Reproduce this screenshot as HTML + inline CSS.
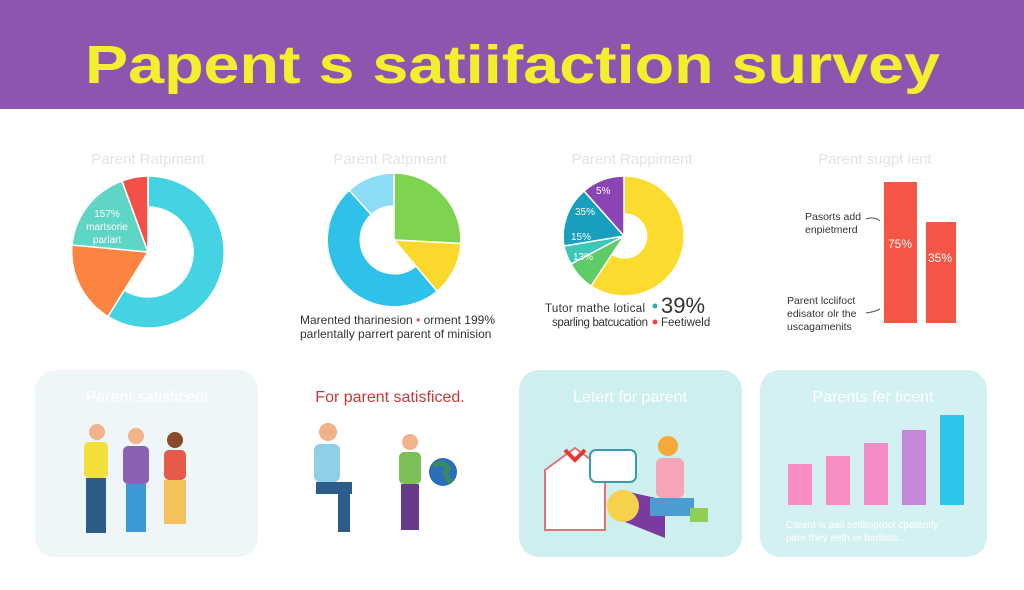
<!DOCTYPE html>
<html><head><meta charset="utf-8"><style>
body{margin:0;width:1024px;height:585px;overflow:hidden;background:#fff;font-family:"Liberation Sans",sans-serif}
</style></head><body>
<svg width="1024" height="585" viewBox="0 0 1024 585" xmlns="http://www.w3.org/2000/svg" font-family="Liberation Sans, sans-serif">
<rect x="0" y="0" width="1024" height="109" fill="#8e55b0"/>
<text x="85" y="83" font-size="54" font-weight="bold" fill="#f3ef2c" textLength="855" lengthAdjust="spacingAndGlyphs">Papent s  satiifaction  survey</text>
<g font-size="15" fill="#e4e4e4" text-anchor="middle">
<text x="148" y="164">Parent Ratpment</text><text x="390" y="164">Parent Ratpment</text>
<text x="632" y="164">Parent Rappiment</text><text x="875" y="164">Parent sugpt ient</text></g>
<!-- donut 1 -->
<g transform="translate(148,252)" stroke="#fff" stroke-width="1.5">
<path d="M0,-76 A76,76 0 1 1 -40,64.5 L-24,38 A45,45 0 1 0 0,-45Z" fill="#44d3e2"/>
<path d="M-40,64.5 A76,76 0 0 1 -76,-7 L0,0Z" fill="#fb8540"/>
<path d="M-76,-7 A76,76 0 0 1 -26,-71 L0,0Z" fill="#5fd5c5"/>
<path d="M-26,-71 A76,76 0 0 1 0,-76 L0,0Z" fill="#f4504a"/>
</g>
<g font-size="10" fill="#fff" text-anchor="middle"><text x="107" y="217">157%</text><text x="107" y="230">martsorie</text><text x="107" y="243">parlart</text></g>
<!-- donut 2 -->
<g transform="translate(394,240)" stroke="#fff" stroke-width="1.5">
<path d="M0,-67 A67,67 0 0 1 66.9,3.5 L0,0 Z" fill="#7ed44e"/>
<path d="M66.9,3.5 A67,67 0 0 1 43.1,51.3 L0,0 Z" fill="#fbd92c"/>
<path d="M43.1,51.3 A67,67 0 0 1 -44.8,-49.8 L-22.7,-25.3 A34,34 0 0 0 21.9,26 Z" fill="#2ec1ea"/>
<path d="M-44.8,-49.8 A67,67 0 0 1 0,-67 L0,-34 A34,34 0 0 0 -22.7,-25.3 Z" fill="#8ddcf5"/>
</g>
<g font-size="12" fill="#333"><text x="300" y="324">Marented tharinesion  <tspan fill="#e44">•</tspan> orment 199%</text><text x="300" y="338">parlentally parrert parent of minision</text></g>
<!-- donut 3 -->
<g transform="translate(624,236)" stroke="#fff" stroke-width="1.5">
<path d="M0,-60 A60,60 0 1 1 -33,50 L-12,18 A22,22 0 1 0 0,-22Z" fill="#fbdb2e"/>
<path d="M-33,50 A60,60 0 0 1 -53,28 L0,0Z" fill="#5ecb66"/>
<path d="M-53,28 A60,60 0 0 1 -60,10 L0,0Z" fill="#3dc7b8"/>
<path d="M-60,10 A60,60 0 0 1 -40,-45 L0,0Z" fill="#189fbd"/>
<path d="M-40,-45 A60,60 0 0 1 0,-60 L0,0Z" fill="#8b44b4"/>
</g>
<g font-size="10" fill="#fff"><text x="596" y="194">5%</text><text x="575" y="215">35%</text><text x="571" y="240">15%</text><text x="573" y="260">13%</text></g>
<g font-size="11.5" fill="#333"><text x="545" y="312" textLength="100">Tutor mathe lotical</text><text x="552" y="326" textLength="96">sparling batcucation</text>
<circle cx="655" cy="306" r="2.5" fill="#3ab"/><text x="661" y="313" font-size="22">39%</text>
<circle cx="655" cy="322" r="2.5" fill="#e44"/><text x="661" y="326">Feetiweld</text></g>
<!-- bars -->
<rect x="884" y="182" width="33" height="141" fill="#f45545"/>
<rect x="926" y="222" width="30" height="101" fill="#f45545"/>
<g font-size="12" fill="#fff"><text x="888" y="248">75%</text><text x="928" y="262">35%</text></g>
<g font-size="10.5" fill="#333"><text x="805" y="220">Pasorts add</text><text x="805" y="233">enpietmerd</text>
<text x="787" y="304">Parent lcclifoct</text><text x="787" y="317">edisator olr the</text><text x="787" y="330">uscagamenits</text></g>
<path d="M866,219 q8,-3 14,2 M866,313 q8,-1 14,-4" stroke="#555" fill="none"/>
<!-- cards -->
<rect x="35" y="370" width="223" height="187" rx="20" fill="#eef6f8"/>
<rect x="519" y="370" width="223" height="187" rx="20" fill="#cdeff0"/>
<rect x="760" y="370" width="227" height="187" rx="20" fill="#d3f1f3"/>
<g font-size="16" text-anchor="middle"><text x="147" y="402" fill="#fff">Parent satisficedt</text>
<text x="390" y="402" fill="#c73a3a">For parent satisficed.</text>
<text x="630" y="402" fill="#fff">Letert for parent</text><text x="873" y="402" fill="#fff">Parents fer ticent</text></g>
<g><circle cx="97" cy="432" r="8" fill="#f2b38a"/><rect x="84" y="442" width="24" height="36" rx="5" fill="#f3df3a"/><rect x="86" y="478" width="20" height="55" fill="#2d5c8a"/>
<circle cx="136" cy="436" r="8" fill="#f2b38a"/><rect x="123" y="446" width="26" height="38" rx="5" fill="#8a62b5"/><rect x="126" y="484" width="20" height="48" fill="#3a9ad8"/>
<circle cx="175" cy="440" r="8" fill="#8b4a2a"/><rect x="164" y="450" width="22" height="30" rx="5" fill="#e65a4a"/><rect x="164" y="480" width="22" height="44" fill="#f5c15a"/></g>
<g><circle cx="328" cy="432" r="9" fill="#f2b38a"/><rect x="314" y="444" width="26" height="38" rx="6" fill="#8fd0e8"/><rect x="316" y="482" width="36" height="12" fill="#2d5c8a"/><rect x="338" y="494" width="12" height="38" fill="#2d5c8a"/>
<circle cx="410" cy="442" r="8" fill="#f2b38a"/><rect x="399" y="452" width="22" height="32" rx="5" fill="#7dc05a"/><rect x="401" y="484" width="18" height="46" fill="#6a3a8a"/>
<circle cx="443" cy="472" r="14" fill="#2a6fb8"/><path d="M434,466 q8,-6 14,2 q-6,8 4,14" stroke="#3a8a5a" stroke-width="5" fill="none"/></g>
<g><path d="M545,470 L575,448 L605,470 L605,530 L545,530Z" fill="#fff" stroke="#e0737a" stroke-width="2"/><path d="M565,450 l10,10 10,-10" stroke="#e33" stroke-width="4" fill="none"/>
<rect x="590" y="450" width="46" height="32" rx="6" fill="#fff" stroke="#3a9ab0" stroke-width="2"/>
<path d="M620,490 L665,500 L665,538 L620,520Z" fill="#7a3aa0"/><circle cx="623" cy="506" r="16" fill="#f6d24a"/>
<circle cx="668" cy="446" r="10" fill="#f5a93a"/><rect x="656" y="458" width="28" height="40" rx="6" fill="#f7a3b8"/><rect x="650" y="498" width="44" height="18" fill="#4b9cd3"/><rect x="690" y="508" width="18" height="14" fill="#8fd050"/></g>
<rect x="788" y="464" width="24" height="41" fill="#f78dc0"/><rect x="826" y="456" width="24" height="49" fill="#f78dc0"/>
<rect x="864" y="443" width="24" height="62" fill="#f28bc6"/><rect x="902" y="430" width="24" height="75" fill="#c388d8"/><rect x="940" y="415" width="24" height="90" fill="#2fc4ea"/>
<g font-size="10" fill="#fff"><text x="786" y="528">Carent is pail setlitoproct cpatently</text><text x="786" y="541">pare they eeth or berlistis...</text></g>
</svg>
</body></html>
